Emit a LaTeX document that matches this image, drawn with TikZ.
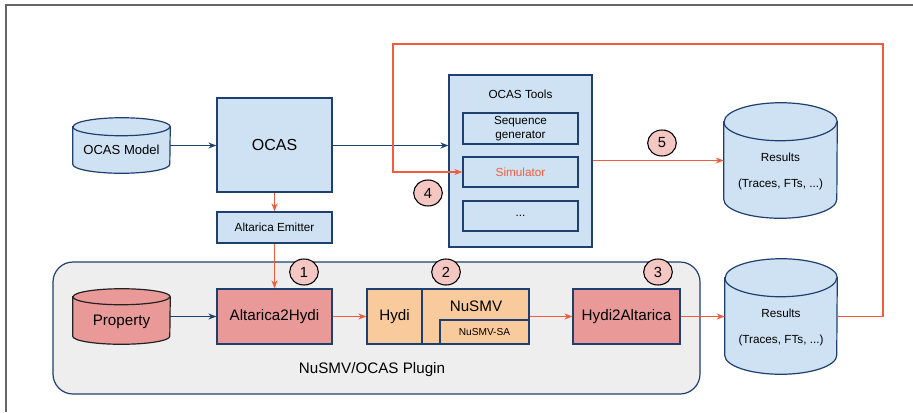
\documentclass[tikz,border=0pt]{standalone}
\usepackage{fontspec}
\setmainfont{Liberation Sans}
\usetikzlibrary{arrows.meta,calc,shapes.geometric,fit}
\definecolor{bfill}{HTML}{CFE2F3}
\definecolor{bdraw}{HTML}{1F3F6E}
\definecolor{rline}{HTML}{F25C3C}
\definecolor{cfill}{HTML}{F4C7C3}
\definecolor{pfill}{HTML}{EA9999}
\definecolor{ofill}{HTML}{F9CB9C}
\definecolor{gfill}{HTML}{EEEEEE}
\definecolor{kdraw}{HTML}{222222}
\newcommand\mycyl[5]{%
 \path[draw=#5,fill=#4,line width=0.9pt] ($(#1.north west)+(0,-#3)$) -- ($(#1.south west)+(0,#3)$) arc[start angle=180,end angle=360,x radius=#2,y radius=#3] -- ($(#1.north east)+(0,-#3)$) arc[start angle=0,end angle=180,x radius=#2,y radius=#3] -- cycle;
 \draw[#5,line width=0.9pt] ($(#1.north west)+(0,-#3)$) arc[start angle=180,end angle=360,x radius=#2,y radius=#3];
}
\tikzset{
  bx/.style={draw=bdraw,line width=0.9pt,inner sep=0pt},
  hold/.style={inner sep=0pt},
  bl/.style={draw=bdraw,line width=0.9pt,-{Stealth[length=6pt,width=4.5pt]}},
  rl/.style={draw=rline,line width=0.9pt,-{Stealth[length=6pt,width=4.5pt]}},
  num/.style={ellipse,draw=black,line width=0.8pt,fill=cfill,minimum width=21.5pt,minimum height=19.5pt,inner sep=0pt,font=\fontsize{11}{13}\selectfont},
  fs/.style={font=\fontsize{8.8}{10.5}\selectfont},
  fl/.style={font=\fontsize{11.4}{13}\selectfont},
}
\begin{document}
\begin{tikzpicture}[x=0.75pt,y=-0.75pt]
\useasboundingbox (0,0) rectangle (913,412);
\draw[color=black!60,line width=1.1pt] (6,412) -- (6,5) -- (913,5);

% top part
\node[hold,fit={(73,118) (170,173)}] (model) {};
\mycyl{model}{36.4pt}{6.75pt}{bfill}{bdraw}
\node[font=\fontsize{9.8}{11}\selectfont] (modeltxt) at (121.5,150) {OCAS Model};

\node[bx,fill=bfill,fit={(217,98) (332,192)}] (ocas) {};
\node[font=\fontsize{12}{14}\selectfont] (ocastxt) at (ocas.center) {OCAS};
\node[bx,fill=bfill,fit={(217,212) (332,243)}] (emit) {};
\node[fs] (emittxt) at (emit.center) {Altarica Emitter};

\node[bx,fill=bfill,fit={(449,75) (592,247)}] (tools) {};
\node[fs] (toolstxt) at (520.5,94) {OCAS Tools};
\node[bx,fill=bfill,fit={(463,113) (578,144)}] (seq) {};
\node[fs,align=center] (seqtxt) at (seq.center) {Sequence\\generator};
\node[bx,fill=bfill,fit={(463,157) (578,187)}] (sim) {};
\node[fs,text=rline] (simtxt) at (sim.center) {Simulator};
\node[bx,fill=bfill,fit={(463,201) (578,231)}] (dots) {};
\node[fs] (dotstxt) at (dots.center) {...};

\node[hold,fit={(724,103) (837,218)}] (res1) {};
\mycyl{res1}{42.4pt}{14.25pt}{bfill}{bdraw}
\node[fs] (res1a) at (780.5,157) {Results};
\node[fs] (res1b) at (780.5,184) {(Traces, FTs, ...)};

% plugin group
\node[draw=bdraw,line width=0.9pt,fill=gfill,rounded corners=15pt,inner sep=0pt,fit={(53,262) (700,394)}] (group) {};
\node[fl] (grouptxt) at (372,370) {NuSMV/OCAS Plugin};

\node[hold,fit={(73,289) (170,344)}] (prop) {};
\mycyl{prop}{36.4pt}{6pt}{pfill}{kdraw}
\node[fl] (proptxt) at (121.5,322) {Property};

\node[bx,fill=pfill,fit={(217,289) (332,344)}] (a2h) {};
\node[fl] (a2htxt) at (a2h.center) {Altarica2Hydi};
\node[bx,fill=ofill,fit={(367,289) (422,344)}] (hydi) {};
\node[fl] (hyditxt) at (hydi.center) {Hydi};
\node[bx,fill=ofill,fit={(422,289) (529,344)}] (nusmv) {};
\node[fl] (nusmvtxt) at (476,306) {NuSMV};
\node[bx,fill=ofill,fit={(440,320) (529,344)}] (nsa) {};
\node[font=\fontsize{7.6}{9}\selectfont] (nsatxt) at (nsa.center) {NuSMV-SA};
\node[bx,fill=pfill,fit={(573,289) (680,344)}] (h2a) {};
\node[fl] (h2atxt) at (h2a.center) {Hydi2Altarica};

\node[hold,fit={(725,259) (837,374)}] (res2) {};
\mycyl{res2}{42pt}{14.25pt}{bfill}{bdraw}
\node[fs] (res2a) at (781,313) {Results};
\node[fs] (res2b) at (781,340) {(Traces, FTs, ...)};

% number markers
\node[num] (n1) at (304,272) {1};
\node[num] (n2) at (446,272) {2};
\node[num] (n3) at (658,272) {3};
\node[num] (n4) at (428,193) {4};
\node[num] (n5) at (662,143) {5};

% connectors
\draw[bl] (model.east) -- (model.east -| ocas.west);
\draw[bl] (ocas.east |- model.east) -- (model.east -| tools.west);
\draw[rl] (ocas.south) -- (emit.north);
\draw[rl] (emit.south) -- (a2h.north);
\draw[bl] (prop.east) -- (a2h.west);
\draw[rl] (a2h.east) -- (hydi.west);
\draw[rl] (nusmv.east) -- (h2a.west);
\draw[rl] (h2a.east) -- (res2.west);
\draw[rl] (res1.west -| tools.east) -- (res1.west);
\coordinate (c1) at (883,44);
\coordinate (c2) at (393,44);
\draw[rl] (res2.east) -| (c1) -- (c2) |- (sim.west);
\end{tikzpicture}
\end{document}
